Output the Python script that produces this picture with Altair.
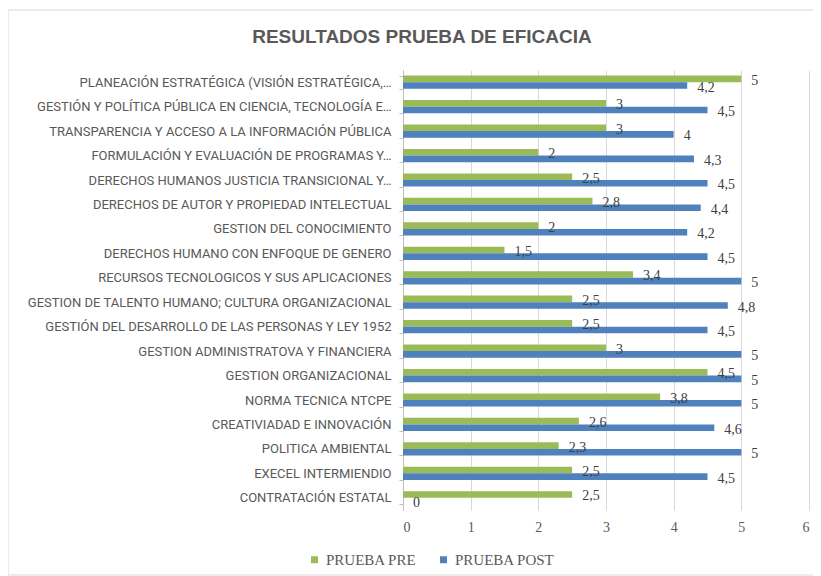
import altair as alt
import pandas as pd

titulo = "RESULTADOS PRUEBA DE EFICACIA"
categorias = [
    "PLANEACIÓN ESTRATÉGICA (VISIÓN ESTRATÉGICA,…",
    "GESTIÓN Y POLÍTICA PÚBLICA EN CIENCIA, TECNOLOGÍA E…",
    "TRANSPARENCIA Y ACCESO A LA INFORMACIÓN PÚBLICA",
    "FORMULACIÓN Y EVALUACIÓN DE PROGRAMAS Y…",
    "DERECHOS HUMANOS JUSTICIA TRANSICIONAL Y…",
    "DERECHOS DE AUTOR Y PROPIEDAD INTELECTUAL",
    "GESTION DEL CONOCIMIENTO",
    "DERECHOS HUMANO CON ENFOQUE DE GENERO",
    "RECURSOS TECNOLOGICOS Y SUS APLICACIONES",
    "GESTION DE TALENTO HUMANO; CULTURA ORGANIZACIONAL",
    "GESTIÓN DEL DESARROLLO DE LAS PERSONAS Y LEY 1952 ",
    "GESTION ADMINISTRATOVA  Y FINANCIERA",
    "GESTION ORGANIZACIONAL",
    "NORMA TECNICA NTCPE",
    "CREATIVIADAD E INNOVACIÓN",
    "POLITICA AMBIENTAL",
    "EXECEL INTERMIENDIO",
    "CONTRATACIÓN ESTATAL",
]
prueba_pre = [5, 3, 3, 2, 2.5, 2.8, 2, 1.5, 3.4, 2.5, 2.5, 3, 4.5, 3.8, 2.6, 2.3, 2.5, 2.5]
prueba_post = [4.2, 4.5, 4, 4.3, 4.5, 4.4, 4.2, 4.5, 5, 4.8, 4.5, 5, 5, 5, 4.6, 5, 4.5, 0]
series = ["PRUEBA PRE", "PRUEBA POST"]
colores = ["#9BBB59", "#4F81BD"]
x_ticks = [0, 1, 2, 3, 4, 5, 6]


def fmt(v):
    return f"{v:g}".replace(".", ",")


rows = []
for c, a, b in zip(categorias, prueba_pre, prueba_post):
    rows.append({"cat": c, "serie": series[0], "valor": a, "etiqueta": fmt(a)})
    rows.append({"cat": c, "serie": series[1], "valor": b, "etiqueta": fmt(b)})
df = pd.DataFrame(rows)

sans = "Roboto, Liberation Sans, sans-serif"
bold_sans = "Liberation Sans, Arial, sans-serif"
serif = "Liberation Serif, Times New Roman, serif"

base = alt.Chart(df).encode(
    y=alt.Y(
        "cat:N",
        sort=categorias,
        title=None,
        scale=alt.Scale(paddingInner=0.46, paddingOuter=0.23),
        axis=alt.Axis(
            labelFont=sans,
            labelFontSize=13,
            labelColor="#595959",
            labelLimit=400,
            labelPadding=8,
            tickBand="extent",
            tickSize=4,
            tickColor="#BFBFBF",
            domainColor="#BFBFBF",
        ),
    ),
    yOffset=alt.YOffset("serie:N", sort=series),
    x=alt.X(
        "valor:Q",
        title=None,
        scale=alt.Scale(domain=[0, 6], nice=False),
        axis=alt.Axis(
            values=x_ticks,
            domain=False,
            ticks=False,
            gridColor="#D9D9D9",
            labelFont=serif,
            labelFontSize=14,
            labelColor="#595959",
            labelPadding=10,
        ),
    ),
)

bars = base.mark_bar().encode(
    color=alt.Color(
        "serie:N",
        sort=series,
        scale=alt.Scale(domain=series, range=colores),
        legend=alt.Legend(
            title=None,
            orient="none",
            legendX=-96,
            legendY=482,
            direction="horizontal",
            symbolType="square",
            symbolSize=49,
            symbolStrokeWidth=0,
            labelFont=serif,
            labelFontSize=15,
            labelColor="#595959",
            labelOffset=4,
            columnPadding=19,
        ),
    )
)

labels = base.mark_text(
    align="left", baseline="middle", dx=10, dy=2,
    font=serif, fontSize=14, color="#404040",
).encode(text="etiqueta:N")

# light grey frame around the whole chart (decoration, not data)
frame = alt.Chart(alt.Data(values=[{"k": 1}])).mark_rect(
    fill=None, stroke="#D9D9D9", strokeWidth=1
).encode(
    x=alt.value(-395), x2=alt.value(416),
    y=alt.value(-60), y2=alt.value(505),
)

title_mark = alt.Chart(alt.Data(values=[{"t": titulo}])).mark_text(
    font=bold_sans, fontSize=19, fontWeight="bold", color="#595959",
    align="center", baseline="middle",
).encode(text="t:N", x=alt.value(19), y=alt.value(-33))

chart = (
    alt.layer(frame, title_mark, bars, labels)
    .properties(
        width=406,
        height=440,
        autosize="none",
        padding={"left": 395, "top": 62, "right": 4, "bottom": 66},
    )
    .configure_view(stroke=None)
)

chart.save("out.html", embed_options={"renderer": "svg", "actions": False})
